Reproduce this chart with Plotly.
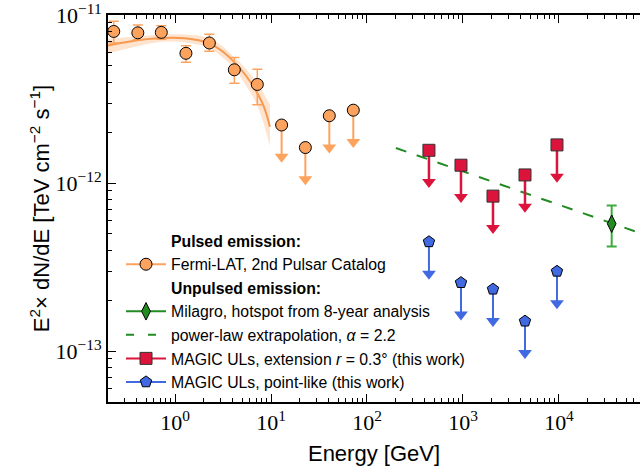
import plotly.graph_objects as go

# ---------------- data ----------------
# Fermi-LAT (2nd Pulsar Catalog) pulsed spectrum, E in GeV, E^2 dN/dE in TeV cm^-2 s^-1
fermi_E = [0.23, 0.41, 0.72, 1.30, 2.28, 4.15, 7.2]
fermi_F = [8.0e-12, 7.85e-12, 7.9e-12, 5.93e-12, 6.83e-12, 4.73e-12, 3.87e-12]
fermi_hi = [9.21e-12, 8.73e-12, 8.64e-12, 6.58e-12, 7.69e-12, 5.59e-12, 4.77e-12]
fermi_lo = [6.83e-12, 7.14e-12, 7.18e-12, 5.25e-12, 6.10e-12, 3.94e-12, 2.93e-12]
fermi_ul_E = [12.9, 22.8, 40.5, 72.0]
fermi_ul_F = [2.22e-12, 1.63e-12, 2.52e-12, 2.72e-12]

# Fermi-LAT spectral model (power law with exponential cut-off) and its uncertainty band
fit_E = [0.2, 0.34, 0.70, 1.27, 2.26, 3.09, 4.12, 5.50, 7.16, 8.43, 9.75]
fit_F = [6.6e-12, 6.98e-12, 7.31e-12, 7.28e-12, 6.80e-12, 6.12e-12, 5.27e-12,
         4.36e-12, 3.45e-12, 2.86e-12, 2.17e-12]
band_E = [0.2, 0.34, 0.70, 1.27, 2.26, 3.09, 4.12, 5.50, 7.16, 9.75]
band_hi = [7.24e-12, 7.41e-12, 7.67e-12, 7.67e-12, 7.31e-12, 6.56e-12, 5.64e-12,
           4.79e-12, 3.96e-12, 2.93e-12]
band_lo = [5.90e-12, 6.38e-12, 6.92e-12, 6.87e-12, 6.38e-12, 5.64e-12, 4.85e-12,
           3.80e-12, 2.93e-12, 1.66e-12]

# Milagro hotspot (8-year analysis)
milagro_E = [35400.0]
milagro_F = [5.74e-13]
milagro_hi = [7.38e-13]
milagro_lo = [4.20e-13]

# Power-law extrapolation of the Milagro flux, alpha = 2.2
pl_E = [200.0, 1.0e5]
pl_F = [1.62e-12, 4.70e-13]

# MAGIC upper limits
magic_E = [442, 953, 2054, 4425, 9530]
magic_ext_UL = [1.57e-12, 1.28e-12, 8.38e-13, 1.12e-12, 1.69e-12]
magic_pt_UL = [4.48e-13, 2.56e-13, 2.34e-13, 1.51e-13, 2.99e-13]

x_tick_vals = [1, 10, 100, 1000, 10000]
x_tick_text = ["10<sup>0</sup>", "10<sup>1</sup>", "10<sup>2</sup>", "10<sup>3</sup>", "10<sup>4</sup>"]
y_tick_vals = [1e-13, 1e-12, 1e-11]
y_tick_text = ["10<sup>\u221213</sup>", "10<sup>\u221212</sup>", "10<sup>\u221211</sup>"]

# ---------------- styles ----------------
ORANGE = "#FDA35E"
ORANGE_LINE = "#F7994F"
GREEN = "#228B22"
RED = "#DC143C"
BLUE = "#4169E1"
SANS = "Liberation Sans, Arial, sans-serif"
SERIF = "Liberation Serif, DejaVu Serif, serif"

HEAD_FACTOR = 10 ** (-32 / 169)  # arrow-head centre below the limit (log spacing)

fig = go.Figure()


def ul_arrows(E, F, color, width):
    xs, ys = [], []
    for e, f in zip(E, F):
        xs += [e, e, None]
        ys += [f, f * HEAD_FACTOR, None]
    fig.add_trace(go.Scatter(x=xs, y=ys, mode="lines", line=dict(color=color, width=width),
                             showlegend=False, hoverinfo="skip"))
    fig.add_trace(go.Scatter(x=E, y=[f * HEAD_FACTOR for f in F], mode="markers",
                             marker=dict(symbol="triangle-down", size=12, color=color,
                                         line=dict(width=0)),
                             showlegend=False, hoverinfo="skip"))


# uncertainty band of the Fermi model
fig.add_trace(go.Scatter(x=band_E, y=band_hi, mode="lines", line=dict(width=0, shape="spline"),
                         showlegend=False, hoverinfo="skip"))
fig.add_trace(go.Scatter(x=band_E, y=band_lo, mode="lines", line=dict(width=0, shape="spline"),
                         fill="tonexty", fillcolor="rgba(253,163,94,0.3)",
                         showlegend=False, hoverinfo="skip"))
# Fermi model curve
fig.add_trace(go.Scatter(x=fit_E, y=fit_F, mode="lines",
                         line=dict(color=ORANGE_LINE, width=2, shape="spline"),
                         showlegend=False, hoverinfo="skip"))

# power-law extrapolation
fig.add_trace(go.Scatter(x=pl_E, y=pl_F, mode="lines",
                         line=dict(color=GREEN, width=2, dash="11px,11px"),
                         showlegend=False))

# upper-limit arrows
ul_arrows(fermi_ul_E, fermi_ul_F, ORANGE, 2)
ul_arrows(magic_E, magic_ext_UL, RED, 2.5)
ul_arrows(magic_E, magic_pt_UL, BLUE, 2)

# Fermi points
fig.add_trace(go.Scatter(
    x=fermi_E, y=fermi_F, mode="markers",
    error_y=dict(type="data", symmetric=False,
                 array=[h - f for h, f in zip(fermi_hi, fermi_F)],
                 arrayminus=[f - l for l, f in zip(fermi_lo, fermi_F)],
                 color=ORANGE, thickness=1.5, width=5),
    marker=dict(symbol="circle", size=12, color=ORANGE, line=dict(color="black", width=1)),
    showlegend=False))
fig.add_trace(go.Scatter(
    x=fermi_ul_E, y=fermi_ul_F, mode="markers",
    marker=dict(symbol="circle", size=12, color=ORANGE, line=dict(color="black", width=1)),
    showlegend=False))

# Milagro
fig.add_trace(go.Scatter(
    x=milagro_E, y=milagro_F, mode="markers",
    error_y=dict(type="data", symmetric=False,
                 array=[h - f for h, f in zip(milagro_hi, milagro_F)],
                 arrayminus=[f - l for l, f in zip(milagro_lo, milagro_F)],
                 color="#3DAA3D", thickness=2, width=5),
    marker=dict(symbol="diamond-tall", size=12.5, color=GREEN, line=dict(color="black", width=1)),
    showlegend=False))

# MAGIC markers
fig.add_trace(go.Scatter(
    x=magic_E, y=magic_ext_UL, mode="markers",
    marker=dict(symbol="square", size=12, color=RED, line=dict(color="#333333", width=1)),
    showlegend=False))
fig.add_trace(go.Scatter(
    x=magic_E, y=magic_pt_UL, mode="markers",
    marker=dict(symbol="pentagon", size=12, color=BLUE, line=dict(color="black", width=1)),
    showlegend=False))

# ---------------- legend entries ----------------
def legend_entry(name, mode="lines+markers", line=None, marker=None):
    fig.add_trace(go.Scatter(x=[None], y=[None], mode=mode, name=name,
                             line=line or dict(width=0),
                             marker=marker or dict(color="rgba(0,0,0,0)", size=1)))


legend_entry("<b>Pulsed emission:</b>", mode="markers")
legend_entry("Fermi-LAT, 2nd Pulsar Catalog",
             line=dict(color=ORANGE, width=2),
             marker=dict(symbol="circle", size=12, color=ORANGE, line=dict(color="black", width=1)))
legend_entry("<b>Unpulsed emission:</b>", mode="markers")
legend_entry("Milagro, hotspot from 8-year analysis",
             line=dict(color=GREEN, width=2),
             marker=dict(symbol="diamond-tall", size=12.5, color=GREEN, line=dict(color="black", width=1)))
legend_entry("power-law extrapolation, <i>\u03b1</i> = 2.2", mode="lines",
             line=dict(color=GREEN, width=2, dash="8px,14px"))
legend_entry("MAGIC ULs, extension <i>r</i> = 0.3\u00b0 (this work)",
             line=dict(color=RED, width=2),
             marker=dict(symbol="square", size=12, color=RED, line=dict(color="#333333", width=1)))
legend_entry("MAGIC ULs, point-like (this work)",
             line=dict(color=BLUE, width=2),
             marker=dict(symbol="pentagon", size=12, color=BLUE, line=dict(color="black", width=1)))

axis_common = dict(
    type="log", showgrid=False, zeroline=False,
    showline=True, linecolor="black", linewidth=2,
    ticks="inside", ticklen=8, tickwidth=1.2, tickcolor="black",
    tickfont=dict(family=SERIF, size=22, color="black"),
    ticklabeloverflow="allow",
    minor=dict(ticks="inside", ticklen=4, tickwidth=1, tickcolor="black", dtick="D1"),
)

fig.update_layout(
    width=640, height=473,
    margin=dict(l=108, r=0, t=13, b=71),
    paper_bgcolor="white", plot_bgcolor="white",
    font=dict(family=SANS, color="black"),
    xaxis=dict(axis_common, range=[-0.698, 4.844], mirror="allticks",
               tickvals=x_tick_vals, ticktext=x_tick_text,
               title=dict(text="Energy [GeV]", font=dict(family=SANS, size=22), standoff=11)),
    yaxis=dict(axis_common, range=[-13.302, -10.999], mirror=False,
               tickvals=y_tick_vals, ticktext=y_tick_text,
               title=dict(text="E<sup>2</sup>\u00d7 dN/dE [TeV cm<sup>\u22122</sup> s<sup>\u22121</sup>]",
                          font=dict(family=SANS, size=22), standoff=0)),
    legend=dict(x=(121 - 108) / 532, y=(402 - 223) / 389, xanchor="left", yanchor="top",
                bgcolor="rgba(0,0,0,0)", borderwidth=0, itemwidth=40,
                font=dict(family=SANS, size=15.8, color="black"),
                traceorder="normal", itemclick=False),
    showlegend=True,
)

fig.write_html("out.html")
